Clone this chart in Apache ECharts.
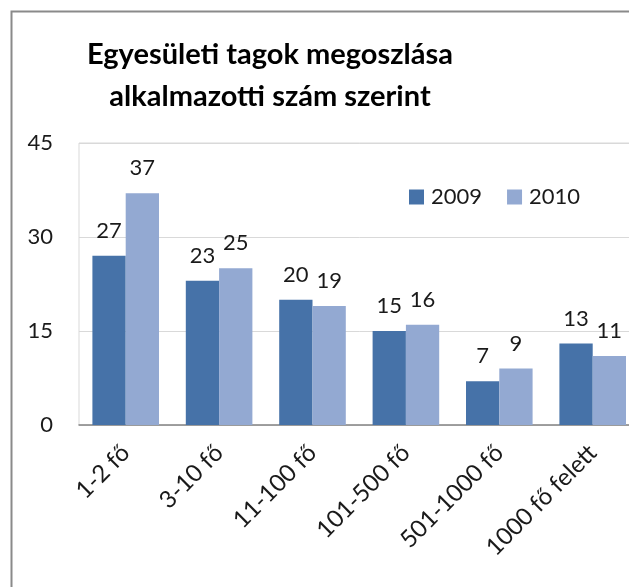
<!DOCTYPE html>
<html>
<head>
<meta charset="utf-8">
<script src="https://cdn.jsdelivr.net/npm/echarts@6/dist/echarts.min.js"></script>
<style>
html,body{margin:0;padding:0;overflow:hidden;background:#fff;}
#c{width:650px;height:587px;}
</style>
</head>
<body>
<div id="c"></div>
<script>
const categories = ['1-2 fő', '3-10 fő', '11-100 fő', '101-500 fő', '501-1000 fő', '1000 fő felett'];
const values2009 = [27, 23, 20, 15, 7, 13];
const values2010 = [37, 25, 19, 16, 9, 11];
const seriesNames = ['2009', '2010'];
const titleLines = ['Egyesületi tagok megoszlása', 'alkalmazotti szám szerint'];
const yTicks = { min: 0, max: 45, interval: 15 };

const FONT = 'Lato';
const chart = echarts.init(document.getElementById('c'), null, { renderer: 'canvas' });
const labelStyle = { show: true, position: 'top', distance: 14, fontSize: 22, color: '#1a1a1a', fontFamily: FONT };
chart.setOption({
  animation: false,
  backgroundColor: '#fff',
  graphic: [
    { type: 'rect', silent: true, shape: { x: 11.5, y: 11.5, width: 800, height: 800 },
      style: { fill: 'none', stroke: '#8a8a8a', lineWidth: 2 } },
    { type: 'text', style: { x: 270, y: 55, text: titleLines[0], textAlign: 'center', textVerticalAlign: 'middle',
      fontSize: 29, fontWeight: 'bold', fontFamily: FONT, fill: '#000' } },
    { type: 'text', style: { x: 270, y: 97, text: titleLines[1], textAlign: 'center', textVerticalAlign: 'middle',
      fontSize: 29, fontWeight: 'bold', fontFamily: FONT, fill: '#000' } }
  ],
  legend: {
    left: 404, top: 181, itemWidth: 15, itemHeight: 15, itemGap: 25,
    icon: 'rect',
    textStyle: { fontSize: 22, color: '#1a1a1a', fontFamily: FONT, padding: [0, 0, 0, 2] },
    data: seriesNames
  },
  grid: { left: 79, right: 10.6, top: 143, bottom: 162, show: true, borderColor: '#d9d9d9', borderWidth: 1 },
  xAxis: {
    type: 'category', data: categories,
    axisLine: { lineStyle: { color: '#868686', width: 1.5 } },
    axisTick: { show: false },
    axisLabel: { rotate: 45, fontSize: 24, color: '#1a1a1a', fontFamily: FONT, margin: 24, interval: 0 }
  },
  yAxis: {
    type: 'value', min: yTicks.min, max: yTicks.max, interval: yTicks.interval,
    axisLine: { show: false }, axisTick: { show: false },
    axisLabel: { fontSize: 22, color: '#1a1a1a', fontFamily: FONT, margin: 26 },
    splitLine: { lineStyle: { color: '#d9d9d9', width: 1 } }
  },
  series: [
    { name: seriesNames[0], type: 'bar', data: values2009, barGap: '0%', barCategoryGap: '28.7%',
      itemStyle: { color: '#4672a8' }, label: labelStyle },
    { name: seriesNames[1], type: 'bar', data: values2010, barGap: '0%', barCategoryGap: '28.7%',
      itemStyle: { color: '#93a9d2' }, label: labelStyle }
  ]
});
</script>
</body>
</html>
